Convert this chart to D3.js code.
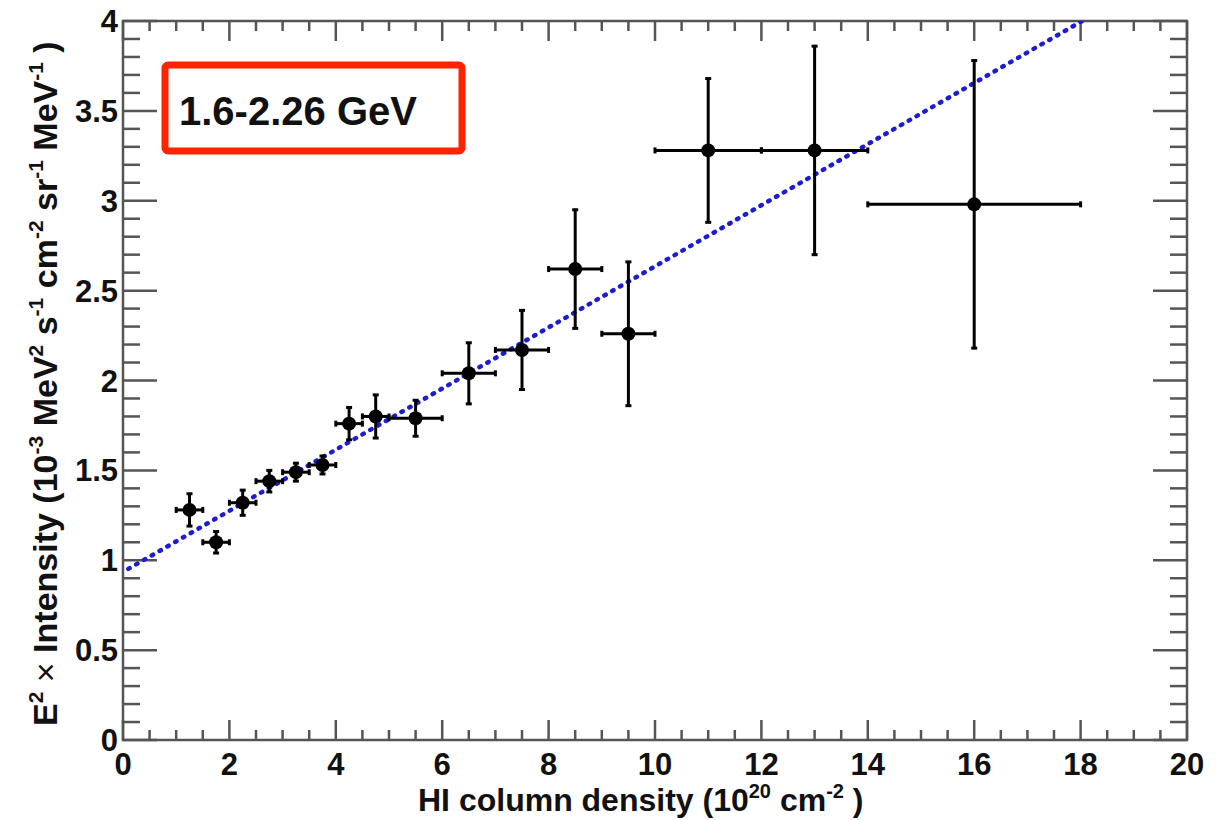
<!DOCTYPE html>
<html>
<head>
<meta charset="utf-8">
<script src="https://cdn.jsdelivr.net/npm/d3@7"></script>
<style>
  body { margin: 0; background: #fff; }
  text { font-family: "Liberation Sans", Arial, sans-serif; font-weight: bold; fill: #111; }
</style>
</head>
<body>
<div id="chart"></div>
<script>
// HI column density vs gamma intensity, 1.6-2.26 GeV band

var xCenter = [1.25, 1.75, 2.25, 2.75, 3.25, 3.75, 4.25, 4.75, 5.5, 6.5, 7.5, 8.5, 9.5, 11, 13, 16];
var xHalfWidth = [0.25, 0.25, 0.25, 0.25, 0.25, 0.25, 0.25, 0.25, 0.5, 0.5, 0.5, 0.5, 0.5, 1, 1, 2];
var intensity = [1.28, 1.10, 1.32, 1.44, 1.49, 1.53, 1.76, 1.80, 1.79, 2.04, 2.17, 2.62, 2.26, 3.28, 3.28, 2.98];
var intensityErr = [0.09, 0.06, 0.07, 0.06, 0.05, 0.05, 0.09, 0.12, 0.10, 0.17, 0.22, 0.33, 0.40, 0.40, 0.58, 0.80];

var fitIntercept = 0.935, fitSlope = 0.17;
var fitRange = [0.1, 18.2];

var xTicks = [0, 2, 4, 6, 8, 10, 12, 14, 16, 18, 20];
var yTicks = [0, 0.5, 1, 1.5, 2, 2.5, 3, 3.5, 4];
var bandLabel = "1.6-2.26 GeV";

var width = 1228, height = 820;
var fLeft = 123, fRight = 1187, fTop = 21, fBottom = 740;

var svg = d3.select("#chart").append("svg")
    .attr("width", width)
    .attr("height", height);

var x = d3.scaleLinear().domain([0, 20]).range([fLeft, fRight]);
var y = d3.scaleLinear().domain([0, 4]).range([fBottom, fTop]);

svg.append("defs").append("clipPath")
    .attr("id", "frame")
    .append("rect")
    .attr("x", fLeft).attr("y", fTop)
    .attr("width", fRight - fLeft).attr("height", fBottom - fTop);

// ticks, ROOT style: pointing inward, mirrored on top/right
var axisCol = "#555";
var ticks = svg.append("g").attr("stroke", axisCol).attr("stroke-width", 2.5);
d3.range(0, 20.001, 0.5).forEach(function(v) {
    var major = Math.abs(v / 2 - Math.round(v / 2)) < 1e-6;
    var len = major ? 20 : 10;
    ticks.append("line").attr("x1", x(v)).attr("x2", x(v)).attr("y1", fBottom).attr("y2", fBottom - len);
    ticks.append("line").attr("x1", x(v)).attr("x2", x(v)).attr("y1", fTop).attr("y2", fTop + len);
});
d3.range(0, 4.001, 0.1).forEach(function(v) {
    var major = Math.abs(v / 0.5 - Math.round(v / 0.5)) < 1e-6;
    var len = major ? 34 : 17;
    ticks.append("line").attr("y1", y(v)).attr("y2", y(v)).attr("x1", fLeft).attr("x2", fLeft + len);
    ticks.append("line").attr("y1", y(v)).attr("y2", y(v)).attr("x1", fRight).attr("x2", fRight - len);
});

svg.append("rect")
    .attr("x", fLeft).attr("y", fTop)
    .attr("width", fRight - fLeft).attr("height", fBottom - fTop)
    .attr("fill", "none")
    .attr("stroke", axisCol)
    .attr("stroke-width", 2.5);

// tick labels
svg.append("g").selectAll("text").data(xTicks).enter().append("text")
    .attr("x", function(d){return x(d);})
    .attr("y", 775)
    .attr("text-anchor", "middle")
    .style("font-size", "31px")
    .text(function(d){return d;});

svg.append("g").selectAll("text").data(yTicks).enter().append("text")
    .attr("x", 118)
    .attr("y", function(d){return y(d) + 11;})
    .attr("text-anchor", "end")
    .style("font-size", "31px")
    .text(function(d){return d;});

// axis titles
function sup(t, s, big) {
    t.append("tspan").attr("dy", -big * 0.4).style("font-size", Math.round(big * 0.62) + "px").text(s);
}
var xs = 32;
var xt = svg.append("text")
    .attr("x", 418).attr("y", 811)
    .style("font-size", xs + "px");
xt.append("tspan").text("HI column density (10");
sup(xt, "20", xs);
xt.append("tspan").attr("dy", xs * 0.4).text(" cm");
sup(xt, "-2", xs);
xt.append("tspan").attr("dy", xs * 0.4).text(" )");

var ys = 34;
var yt = svg.append("text")
    .attr("transform", "translate(57,726) rotate(-90)")
    .style("font-size", ys + "px");
yt.append("tspan").text("E");
sup(yt, "2", ys);
yt.append("tspan").attr("dy", ys * 0.4).style("font-weight", "normal").text(" \u00d7 ");
yt.append("tspan").text("Intensity (10");
sup(yt, "-3", ys);
["MeV", "s", "cm", "sr", "MeV"].forEach(function(u, i) {
    yt.append("tspan").attr("dy", ys * 0.4).text(" " + u);
    sup(yt, ["2", "-1", "-2", "-1", "-1"][i], ys);
});
yt.append("tspan").attr("dy", ys * 0.4).text(" )");

// fit line
var plot = svg.append("g").attr("clip-path", "url(#frame)");
var line = d3.line()
    .x(function(d){return x(d);})
    .y(function(d){return y(fitIntercept + fitSlope * d);});
plot.append("path")
    .datum(fitRange)
    .attr("d", line)
    .attr("fill", "none")
    .attr("stroke", "#1c1cd0")
    .attr("stroke-width", 4.5)
    .attr("stroke-linecap", "round")
    .attr("stroke-dasharray", "1.5,7.5");

// data points with error bars
var pts = xCenter.map(function(v, i) {
    return {x: v, dx: xHalfWidth[i], y: intensity[i], dy: intensityErr[i]};
});
var cap = 3;
var g = plot.append("g").attr("stroke", "#000").attr("stroke-width", 3);
pts.forEach(function(d) {
    g.append("line").attr("x1", x(d.x - d.dx)).attr("x2", x(d.x + d.dx)).attr("y1", y(d.y)).attr("y2", y(d.y));
    g.append("line").attr("x1", x(d.x)).attr("x2", x(d.x)).attr("y1", y(d.y - d.dy)).attr("y2", y(d.y + d.dy));
    g.append("line").attr("x1", x(d.x - d.dx)).attr("x2", x(d.x - d.dx)).attr("y1", y(d.y) - cap).attr("y2", y(d.y) + cap);
    g.append("line").attr("x1", x(d.x + d.dx)).attr("x2", x(d.x + d.dx)).attr("y1", y(d.y) - cap).attr("y2", y(d.y) + cap);
    g.append("line").attr("x1", x(d.x) - cap).attr("x2", x(d.x) + cap).attr("y1", y(d.y - d.dy)).attr("y2", y(d.y - d.dy));
    g.append("line").attr("x1", x(d.x) - cap).attr("x2", x(d.x) + cap).attr("y1", y(d.y + d.dy)).attr("y2", y(d.y + d.dy));
});
plot.selectAll("circle").data(pts).enter().append("circle")
    .attr("cx", function(d){return x(d.x);})
    .attr("cy", function(d){return y(d.y);})
    .attr("r", 7)
    .attr("fill", "#000");

// energy band label
svg.append("rect")
    .attr("x", 165).attr("y", 65)
    .attr("width", 297).attr("height", 86)
    .attr("rx", 3)
    .attr("fill", "#fff")
    .attr("stroke", "#ff2400")
    .attr("stroke-width", 7);
svg.append("text")
    .attr("x", 179).attr("y", 125)
    .style("font-size", "40px")
    .text(bandLabel);
</script>
</body>
</html>
